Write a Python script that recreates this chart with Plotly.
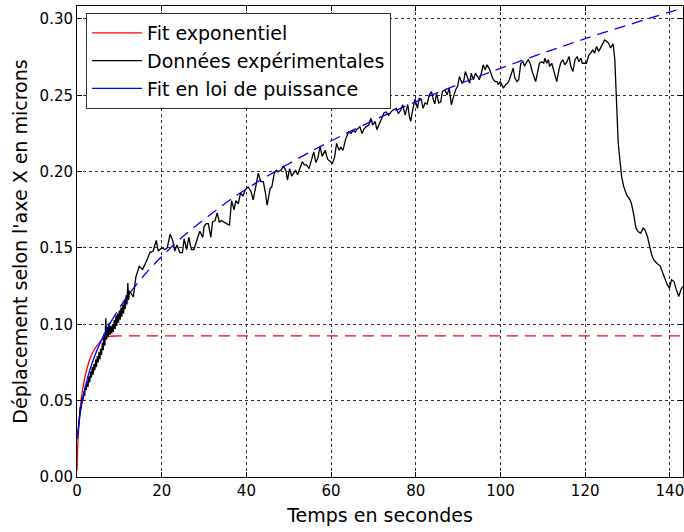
import plotly.graph_objects as go

# ---------------- data ----------------
# experimental data: dense part (0 - 12.4 s)
t_dense = [0.2, 0.4, 0.6, 0.8, 1.0, 1.2, 1.4, 1.6, 1.8, 2.0, 2.2, 2.4, 2.6, 2.8, 3.0,
           3.2, 3.4, 3.6, 3.8, 4.0, 4.2, 4.4, 4.6, 4.8, 5.0, 5.2, 5.4, 5.6, 5.8, 6.0,
           6.2, 6.4, 6.6, 6.8, 7.0, 7.2, 7.4, 7.6, 7.8, 8.0, 8.2, 8.4, 8.6, 8.8, 9.0,
           9.2, 9.4, 9.6, 9.8, 10.0, 10.2, 10.4, 10.6, 10.8, 11.0, 11.2, 11.4, 11.6,
           11.8, 12.0, 12.2, 12.4]
y_dense = [0.028, 0.036, 0.040, 0.046, 0.045, 0.052, 0.050, 0.056, 0.053, 0.060, 0.057,
           0.063, 0.059, 0.066, 0.062, 0.069, 0.065, 0.072, 0.067, 0.074, 0.070, 0.077,
           0.072, 0.079, 0.075, 0.082, 0.077, 0.084, 0.080, 0.088, 0.083, 0.094, 0.086,
           0.104, 0.090, 0.098, 0.092, 0.101, 0.093, 0.099, 0.094, 0.100, 0.095, 0.103,
           0.097, 0.106, 0.099, 0.107, 0.101, 0.109, 0.103, 0.111, 0.105, 0.113, 0.107,
           0.116, 0.110, 0.119, 0.113, 0.127, 0.116, 0.122]

# experimental data: sparse part (13.3 - 143 s)
t_sparse = [13.3, 13.9, 14.7, 15.5, 16.5, 17.2, 18.0, 18.7, 19.2, 20.0, 20.8, 21.3, 22.0,
            22.6, 23.1, 23.6, 24.3, 24.9, 25.3, 25.9, 26.4, 27.0, 27.6, 28.3, 29.0, 29.7,
            30.0, 30.5, 31.0, 31.6, 32.0, 32.6, 33.1, 33.6, 34.1, 35.3, 36.0, 36.5, 37.1,
            37.5, 38.1, 38.6, 39.2, 39.7, 40.4, 41.1, 41.6, 42.2, 42.8, 43.4, 44.0, 44.5,
            44.9, 45.6, 46.0, 46.6, 47.1, 47.5, 48.2, 48.7, 49.3, 49.7, 50.2, 50.7, 51.1,
            51.6, 52.1, 52.7, 53.2, 53.7, 54.2, 54.8, 55.4, 55.9, 56.4, 56.9, 57.4, 57.9,
            58.6, 59.2, 59.7, 60.3, 60.8, 61.3, 61.9, 62.3, 62.8, 63.4, 64.1, 64.7, 65.2,
            65.7, 66.2, 66.8, 67.3, 67.8, 68.3, 68.9, 69.4, 69.8, 70.4, 70.8, 71.5, 72.0,
            72.5, 73.0, 73.6, 74.1, 74.7, 75.4, 75.9, 76.5, 76.9, 77.5, 78.1, 78.5, 78.8,
            79.1, 79.5, 79.8, 80.4, 80.8, 81.3, 81.7, 82.2, 82.7, 83.2, 83.7, 84.1, 84.5,
            84.9, 85.4, 85.9, 86.3, 86.9, 87.4, 87.9, 88.4, 88.9, 89.4, 89.9, 90.3, 90.9,
            91.3, 91.7, 92.2, 92.7, 93.1, 93.6, 94.1, 94.5, 95.0, 95.6, 95.9, 96.4, 96.8,
            97.3, 97.8, 98.3, 98.8, 99.2, 99.5, 99.9, 100.3, 100.7, 101.2, 101.7, 102.1,
            102.6, 103.0, 103.4, 103.9, 104.3, 104.8, 105.3, 105.7, 106.2, 106.6, 107.1,
            107.6, 108.3, 108.8, 109.2, 109.7, 110.2, 110.5, 110.9, 111.3, 111.6, 112.1,
            112.5, 113.0, 113.3, 113.8, 114.2, 114.7, 115.2, 115.7, 116.2, 116.6, 117.1,
            117.6, 118.1, 118.5, 119.0, 119.3, 119.8, 120.3, 120.9, 121.3, 121.8, 122.2,
            122.7, 123.2, 123.6, 124.2, 124.6, 125.1, 125.5, 126.0, 126.6, 127.0, 127.4,
            127.8, 128.2, 128.6, 129.1, 129.8, 130.6, 130.9, 131.4, 132.0, 132.5, 133.1,
            133.7, 134.1, 134.7, 135.1, 135.7, 136.2, 136.9, 137.7, 138.3, 138.8, 139.4,
            139.9, 140.4, 141.0, 141.4, 142.1, 142.6, 143.0]
y_sparse = [0.118, 0.131, 0.138, 0.136, 0.142, 0.147, 0.148, 0.155, 0.148, 0.150, 0.149,
            0.150, 0.159, 0.155, 0.148, 0.152, 0.147, 0.147, 0.156, 0.149, 0.157, 0.149,
            0.149, 0.155, 0.161, 0.157, 0.164, 0.166, 0.166, 0.157, 0.167, 0.168, 0.173,
            0.167, 0.168, 0.166, 0.165, 0.181, 0.175, 0.181, 0.179, 0.186, 0.184, 0.188,
            0.190, 0.187, 0.1815, 0.190, 0.199, 0.1935, 0.1935, 0.186, 0.178, 0.189, 0.190,
            0.199, 0.201, 0.200, 0.201, 0.2035, 0.201, 0.1945, 0.202, 0.197, 0.199, 0.201,
            0.198, 0.2025, 0.2065, 0.2045, 0.2045, 0.202, 0.208, 0.213, 0.206, 0.209,
            0.2165, 0.210, 0.214, 0.208, 0.207, 0.2055, 0.209, 0.2185, 0.214, 0.216, 0.214,
            0.221, 0.226, 0.225, 0.227, 0.226, 0.228, 0.2295, 0.225, 0.228, 0.2295, 0.2305,
            0.235, 0.2305, 0.233, 0.2275, 0.232, 0.236, 0.2385, 0.239, 0.237, 0.239, 0.2405,
            0.2415, 0.238, 0.2405, 0.2438, 0.237, 0.244, 0.236, 0.233, 0.238, 0.244, 0.2475,
            0.2415, 0.248, 0.2475, 0.2415, 0.245, 0.2443, 0.2503, 0.2525, 0.2475, 0.2443,
            0.2515, 0.245, 0.2458, 0.2525, 0.2535, 0.2503, 0.2547, 0.2438, 0.249, 0.2535,
            0.256, 0.2623, 0.258, 0.259, 0.2656, 0.2613, 0.258, 0.2645, 0.2602, 0.2645,
            0.2623, 0.2602, 0.2656, 0.270, 0.2667, 0.270, 0.2678, 0.2635, 0.2602, 0.259,
            0.259, 0.257, 0.259, 0.257, 0.2547, 0.257, 0.258, 0.2602, 0.2645, 0.2678, 0.2613,
            0.259, 0.2602, 0.271, 0.272, 0.269, 0.272, 0.2733, 0.270, 0.2645, 0.259, 0.2656,
            0.271, 0.272, 0.271, 0.2743, 0.271, 0.2733, 0.269, 0.271, 0.2667, 0.2623, 0.259,
            0.2667, 0.271, 0.2733, 0.270, 0.272, 0.2754, 0.269, 0.2656, 0.2733, 0.2754,
            0.272, 0.2743, 0.271, 0.271, 0.271, 0.2765, 0.2776, 0.2798, 0.2776, 0.282,
            0.2787, 0.2809, 0.2842, 0.2863, 0.2852, 0.2842, 0.281, 0.2837, 0.2733, 0.245,
            0.2187, 0.2077, 0.1968, 0.1902, 0.1848, 0.1815, 0.1794, 0.1728, 0.163, 0.1608,
            0.1597, 0.163, 0.162, 0.1575, 0.152, 0.1455, 0.1422, 0.140, 0.1383, 0.1345,
            0.1302, 0.1258, 0.1237, 0.1291, 0.128, 0.1237, 0.1182, 0.1226, 0.1247]

# exponential fit
t_exp = [0.0, 0.1, 0.3, 0.6, 1.0, 1.5, 2.0, 3.0, 4.0, 5.0, 6.0, 7.0, 8.0, 10.0, 143.1]
y_exp = [0.004, 0.015, 0.028, 0.040, 0.051, 0.060, 0.067, 0.077, 0.083, 0.087, 0.090,
         0.0915, 0.0922, 0.0925, 0.0925]

# power-law fit
t_pow = [0.1, 0.3, 0.6, 1.0, 1.5, 2.0, 3.0, 4.0, 5.0, 6.0, 7.0, 8.0, 10.0, 12.5, 16.0,
         20.0, 25.0, 31.0, 38.5, 47.5, 60.0, 75.0, 90.0, 105.0, 120.0, 135.0, 143.1]
y_pow = [0.025, 0.031, 0.038, 0.046, 0.0535, 0.0597, 0.0698, 0.0779, 0.0849, 0.091,
         0.0966, 0.1016, 0.1107, 0.1206, 0.1326, 0.1444, 0.1575, 0.1708, 0.186, 0.2012,
         0.2201, 0.2398, 0.2571, 0.2727, 0.2871, 0.3003, 0.3072]

x_ticks = [0, 20, 40, 60, 80, 100, 120, 140]
y_ticks = [0.00, 0.05, 0.10, 0.15, 0.20, 0.25, 0.30]

SPLIT_T = 8.0  # fits are drawn solid up to here, dashed beyond

# ---------------- figure ----------------
RED, BLACK, BLUE = "#ff0000", "#000000", "#0000ff"
DASH = "11px,7px"
LW = 1.3

fig = go.Figure()

def split(ts, ys):
    a = [(t, y) for t, y in zip(ts, ys) if t <= SPLIT_T]
    b = [(t, y) for t, y in zip(ts, ys) if t >= SPLIT_T]
    return ([p[0] for p in a], [p[1] for p in a]), ([p[0] for p in b], [p[1] for p in b])

(e1t, e1y), (e2t, e2y) = split(t_exp, y_exp)
(p1t, p1y), (p2t, p2y) = split(t_pow, y_pow)

# red exponential fit
fig.add_trace(go.Scatter(x=e1t, y=e1y, mode="lines", line=dict(color=RED, width=LW, shape="spline"),
                         showlegend=False, hoverinfo="skip"))
fig.add_trace(go.Scatter(x=e2t, y=e2y, mode="lines", line=dict(color=RED, width=LW, dash=DASH),
                         showlegend=False, hoverinfo="skip"))
# black data
fig.add_trace(go.Scatter(x=t_dense + t_sparse, y=y_dense + y_sparse, mode="lines",
                         line=dict(color=BLACK, width=1.3), showlegend=False))
# blue power-law fit
fig.add_trace(go.Scatter(x=p1t, y=p1y, mode="lines", line=dict(color=BLUE, width=LW, shape="spline"),
                         showlegend=False, hoverinfo="skip"))
fig.add_trace(go.Scatter(x=p2t, y=p2y, mode="lines", line=dict(color=BLUE, width=LW, dash=DASH, shape="spline"),
                         showlegend=False, hoverinfo="skip"))

# legend entries (solid samples as in the reference)
for name, col in [("Fit exponentiel", RED), ("Données expérimentales", BLACK),
                  ("Fit en loi de puissance", BLUE)]:
    fig.add_trace(go.Scatter(x=[None], y=[None], mode="lines", name=name,
                             line=dict(color=col, width=LW)))

axis_common = dict(
    showline=True, linecolor="black", linewidth=1, mirror="allticks",
    ticks="inside", ticklen=5, tickcolor="black", tickwidth=1,
    showgrid=True, gridcolor="#333333", gridwidth=1, griddash="dot",
    zeroline=False, automargin=False, ticklabeloverflow="allow",
    tickfont=dict(family="DejaVu Sans", size=15, color="black"),
)

fig.update_layout(
    width=684, height=532,
    margin=dict(l=77, r=1, t=6, b=55),
    paper_bgcolor="white", plot_bgcolor="white",
    font=dict(family="DejaVu Sans", color="black"),
    xaxis=dict(range=[0, 143.1], tickvals=x_ticks, ticktext=[str(v) for v in x_ticks],
               title=dict(text="Temps en secondes", font=dict(size=19), standoff=9),
               **axis_common),
    yaxis=dict(range=[0, 0.3085], tickvals=y_ticks, ticktext=[f"{v:.2f}" for v in y_ticks],
               title=dict(text="Déplacement selon l'axe X en microns", font=dict(size=19), standoff=6),
               **axis_common),
    legend=dict(x=0.015, y=0.985, xanchor="left", yanchor="top",
                bgcolor="white", bordercolor="#333333", borderwidth=1, itemwidth=50,
                font=dict(size=19, color="black"), tracegroupgap=0),
    showlegend=True,
)

fig.write_html("out.html", config={"displayModeBar": False},
               post_script="document.body.style.margin='0';document.body.style.padding='0';")
